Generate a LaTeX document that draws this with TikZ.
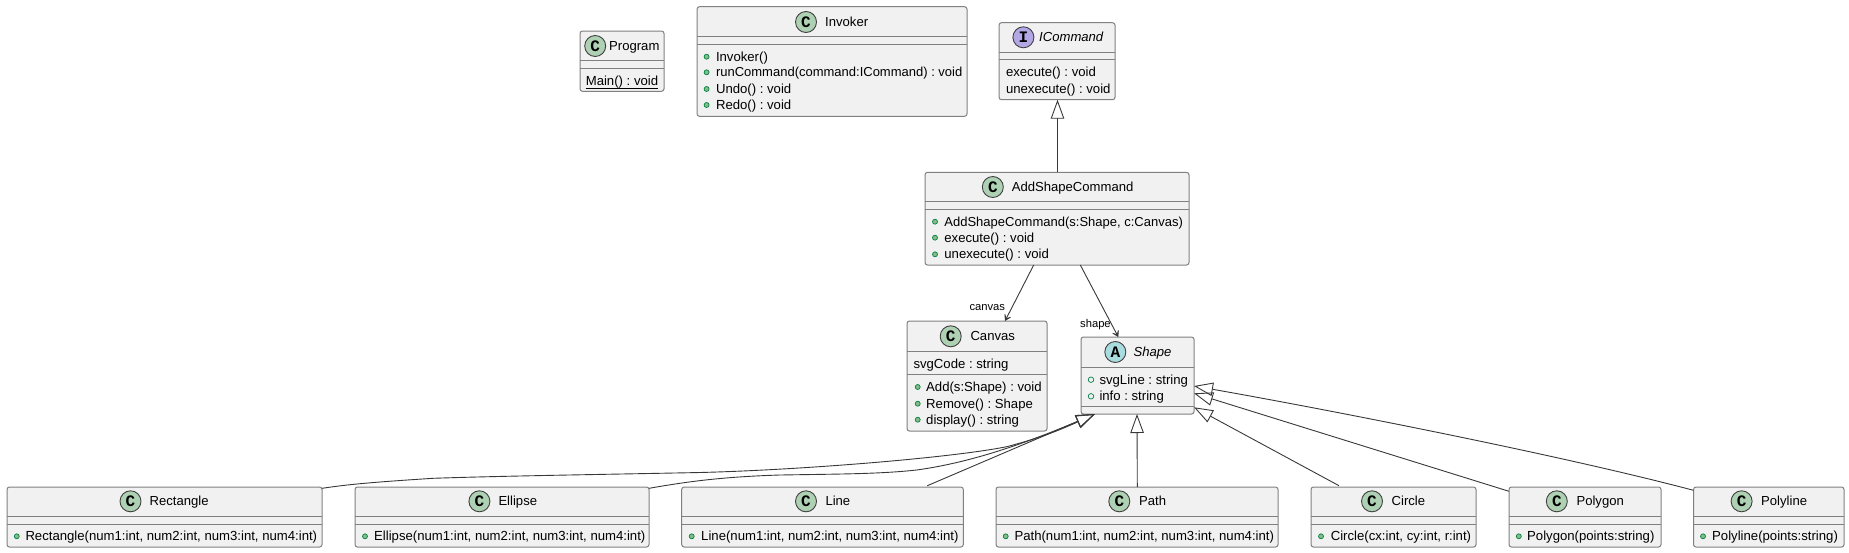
\documentclass[tikz,border=0pt]{standalone}
\usepackage{fontspec}
\setmainfont{Liberation Sans}
\newfontfamily\glyphfont{Liberation Mono}[BoldFont={Liberation Mono Bold}]
\usetikzlibrary{arrows.meta}
\definecolor{boxfill}{HTML}{F1F1F1}
\definecolor{boxline}{HTML}{808080}
\definecolor{connline}{HTML}{383838}
\definecolor{spotC}{HTML}{ADD1B2}
\definecolor{spotA}{HTML}{A9DCDF}
\definecolor{spotI}{HTML}{B4A7E5}
\definecolor{pubfill}{HTML}{84BE84}
\definecolor{publine}{HTML}{038048}
\tikzset{
  classbox/.style={draw=boxline,fill=boxfill,line width=1pt,rounded corners=2.5pt,inner sep=0pt,outer sep=0pt},
  sepline/.style={draw=boxline,line width=1pt},
  spot/.style={circle,draw=black!75,line width=.9pt,minimum size=21pt,inner sep=0pt,font=\glyphfont\bfseries\fontsize{16}{16}\selectfont},
  titletext/.style={anchor=west,inner sep=0pt,text height=9.5pt,text depth=.8pt,font=\fontsize{13.1}{15}\selectfont},
  ititletext/.style={titletext,font=\itshape\fontsize{13.1}{15}\selectfont},
  membertext/.style={anchor=west,inner sep=0pt,text height=9.5pt,text depth=.8pt,font=\fontsize{13.15}{15}\selectfont},
  pub/.style={circle,draw=publine,fill=pubfill,line width=.7pt,minimum size=5pt,inner sep=0pt},
  field/.style={circle,draw=publine,fill=none,line width=.7pt,minimum size=5.5pt,inner sep=0pt},
  rolelabel/.style={anchor=west,inner sep=0pt,text height=8.5pt,text depth=.5pt,font=\fontsize{11.2}{13}\selectfont},
  conn/.style={draw=connline,line width=.9pt},
  inherit/.style={conn,-{Triangle[open,length=19pt,width=13.5pt]}},
  assoc/.style={conn,-{Stealth[length=9pt,width=11pt,inset=6pt]}},
}
% name, x1, y1, x2, y2, sep1, sep2
\newcommand{\umlbox}[7]{%
  \node[classbox,minimum width={(#4-#2)*1pt},minimum height={(#5-#3)*1pt}] (n-#1) at ({(#2+#4)/2},{-(#3+#5)/2}) {};
  \draw[sepline] (n-#1.west |- 0,-#6) -- (n-#1.east |- 0,-#6);
  \draw[sepline] (n-#1.west |- 0,-#7) -- (n-#1.east |- 0,-#7);
}
% name, spot x, spot y, letter, colour, title style, title x, title
\newcommand{\umlhead}[8]{%
  \node[spot,fill=#5] (n-#1-spot) at (#2,-#3) {#4};
  \node[#6] (n-#1-title) at (#7,-#3) {#8};
}
% id, marker style, marker x, text x, y, text
\newcommand{\umlmember}[6]{%
  \node[#2] (m-#1-mark) at (#3,-#5) {};
  \node[membertext] (m-#1) at (#4,-#5) {#6};
}
\begin{document}
\frenchspacing
\begin{tikzpicture}[x=1pt,y=1pt]
\useasboundingbox (0,0) rectangle (1849,-552);

% Program
\umlbox{prog}{580}{31}{664}{91.3}{60.3}{68.3}
\umlhead{prog}{595.2}{46}{C}{spotC}{titletext}{609}{Program}
\node[membertext] (m-main) at (585.6,-81) {Main() : void};
\draw[draw=black,line width=.8pt] (m-main.west |- 0,-88) -- (m-main.east |- 0,-88);

% Invoker
\umlbox{inv}{697}{6.7}{967}{116.3}{36.3}{44}
\umlhead{inv}{806}{22}{C}{spotC}{titletext}{825}{Invoker}
\umlmember{inv1}{pub}{706.6}{715.8}{56.7}{Invoker()}
\umlmember{inv2}{pub}{706.6}{715.8}{72.3}{\fontsize{13}{15}\selectfont runCommand(command:ICommand) : void}
\umlmember{inv3}{pub}{706.6}{715.8}{89}{Undo() : void}
\umlmember{inv4}{pub}{706.6}{715.8}{105}{Redo() : void}

% ICommand
\umlbox{icmd}{999}{22.7}{1115}{99.7}{52.3}{59.7}
\umlhead{icmd}{1023.4}{37.3}{I}{spotI}{ititletext}{1039}{ICommand}
\node[membertext] (m-exec) at (1005.8,-72.3) {execute() : void};
\node[membertext] (m-unexec) at (1005.8,-89) {unexecute() : void};

% AddShapeCommand
\umlbox{add}{925}{172.3}{1189}{265}{201.3}{209.3}
\umlhead{add}{992.8}{187}{C}{spotC}{titletext}{1011.6}{AddShapeCommand}
\umlmember{add1}{pub}{935}{944.2}{221.7}{\fontsize{13}{15}\selectfont AddShapeCommand(s:Shape, c:Canvas)}
\umlmember{add2}{pub}{935}{944.2}{237.7}{execute() : void}
\umlmember{add3}{pub}{935}{944.2}{254.3}{unexecute() : void}

% Canvas
\umlbox{canvas}{907}{321}{1047}{431}{351}{374.3}
\umlhead{canvas}{950.7}{336.3}{C}{spotC}{titletext}{970.3}{Canvas}
\node[membertext] (m-svg) at (913.3,-364) {svgCode : string};
\umlmember{can1}{pub}{917.7}{926}{387}{Add(s:Shape) : void}
\umlmember{can2}{pub}{917.7}{926}{403.7}{Remove() : Shape}
\umlmember{can3}{pub}{917.7}{926}{419.7}{display() : string}

% Shape
\umlbox{shape}{1081}{337}{1194}{414}{367}{406.7}
\umlhead{shape}{1115.3}{352}{A}{spotA}{ititletext}{1133.3}{Shape}
\umlmember{sh1}{field}{1091}{1099.3}{379.7}{svgLine : string}
\umlmember{sh2}{field}{1091}{1099.3}{396.3}{info : string}

% Bottom row
\umlbox{rect}{7}{487}{322}{547}{516.3}{524.3}
\umlhead{rect}{130.5}{501.3}{C}{spotC}{titletext}{149.4}{Rectangle}
\umlmember{rect1}{pub}{16.8}{25.3}{536.3}{Rectangle(num1:int, num2:int, num3:int, num4:int)}

\umlbox{ellipse}{355}{487}{649}{547}{516.3}{524.3}
\umlhead{ellipse}{479.4}{501.3}{C}{spotC}{titletext}{498.3}{Ellipse}
\umlmember{ell1}{pub}{365}{374}{536.3}{Ellipse(num1:int, num2:int, num3:int, num4:int)}

\umlbox{line}{681.7}{487}{963.3}{547}{516.3}{524.3}
\umlhead{line}{806}{501.3}{C}{spotC}{titletext}{825.3}{Line}
\umlmember{line1}{pub}{691.7}{701}{536.3}{Line(num1:int, num2:int, num3:int, num4:int)}

\umlbox{path}{996}{487}{1278}{547}{516.3}{524.3}
\umlhead{path}{1119.3}{501.3}{C}{spotC}{titletext}{1139}{Path}
\umlmember{path1}{pub}{1005.7}{1014.3}{536.3}{Path(num1:int, num2:int, num3:int, num4:int)}

\umlbox{circle}{1311}{487}{1476}{547}{516.3}{524.3}
\umlhead{circle}{1372}{501.3}{C}{spotC}{titletext}{1391.5}{Circle}
\umlmember{cir1}{pub}{1321}{1330.6}{536.3}{Circle(cx:int, cy:int, r:int)}

\umlbox{polygon}{1509}{487}{1661}{547}{516.3}{524.3}
\umlhead{polygon}{1556.8}{501.3}{C}{spotC}{titletext}{1576.3}{Polygon}
\umlmember{pg1}{pub}{1518.8}{1527}{536.3}{Polygon(points:string)}

\umlbox{polyline}{1693.5}{487}{1844}{547}{516.3}{524.3}
\umlhead{polyline}{1741.6}{501.3}{C}{spotC}{titletext}{1761}{Polyline}
\umlmember{pl1}{pub}{1703}{1712}{536.3}{Polyline(points:string)}

% Connectors
\draw[inherit] ([xshift=.5pt]n-add.north) -- ([xshift=.5pt]n-icmd.south);
\draw[assoc] ([xshift=-23.3pt]n-add.south) -- ([xshift=28pt]n-canvas.north);
\draw[assoc] ([xshift=23.3pt]n-add.south) -- ([xshift=-19.2pt]n-shape.north);
\node[rolelabel] (l-canvas) at (969.3,-306.7) {canvas};
\node[rolelabel] (l-shape) at (1080,-323) {shape};

\draw[inherit] ([yshift=-1.3pt]n-rect.north east)
  .. controls (345,-485) and (360,-483) .. (433,-478.3)
  .. controls (500,-476) and (600,-474.5) .. (700,-472.5)
  .. controls (800,-470) and (950,-458) .. (1006.7,-446.7)
  .. controls (1040,-438) and (1060,-430) .. ([xshift=-42.5pt]n-shape.south);
\draw[inherit] ([yshift=-1.3pt]n-ellipse.north east)
  .. controls (680,-483) and (715,-477) .. (780,-475)
  .. controls (840,-474) and (880,-474) .. (916.7,-470)
  .. controls (960,-464) and (1010,-450) .. ([xshift=-42.5pt]n-shape.south);
\draw[inherit] ([xshift=-36pt,yshift=1.3pt]n-line.north east) -- ([xshift=-42.5pt]n-shape.south);
\draw[inherit] ([xshift=.3pt]n-path.north) -- (n-path.north |- n-shape.south);
\draw[inherit] ([xshift=28pt,yshift=1.3pt]n-circle.north west) -- ([yshift=-31.8pt]n-shape.east);
\draw[inherit] ([yshift=-4.3pt]n-polygon.north west) -- ([yshift=-17.8pt]n-shape.east);
\draw[inherit] ([yshift=-3.3pt]n-polyline.north west)
  .. controls (1560,-455) and (1330,-410) .. ([yshift=-10.5pt]n-shape.east);
\end{tikzpicture}
\end{document}
